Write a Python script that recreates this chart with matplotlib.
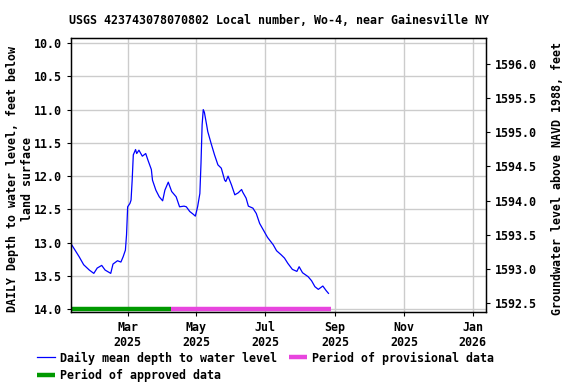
import matplotlib
matplotlib.use("Agg")
import matplotlib.pyplot as plt
from matplotlib.ticker import FormatStrFormatter
import pandas as pd

# daily mean depth to water level
dates = [
    "2025-01-10", "2025-01-17", "2025-01-21", "2025-01-26", "2025-01-30",
    "2025-02-02", "2025-02-06", "2025-02-09", "2025-02-14", "2025-02-16",
    "2025-02-20", "2025-02-23", "2025-02-25", "2025-02-27", "2025-02-28",
    "2025-03-01", "2025-03-03", "2025-03-04", "2025-03-05", "2025-03-06",
    "2025-03-08", "2025-03-09", "2025-03-11", "2025-03-14", "2025-03-17",
    "2025-03-19", "2025-03-22", "2025-03-23", "2025-03-26", "2025-03-29",
    "2025-04-01", "2025-04-03", "2025-04-06", "2025-04-09", "2025-04-13",
    "2025-04-16", "2025-04-20", "2025-04-22", "2025-04-25", "2025-04-28",
    "2025-04-30", "2025-05-02", "2025-05-04", "2025-05-05", "2025-05-06",
    "2025-05-07", "2025-05-08", "2025-05-10", "2025-05-11", "2025-05-14",
    "2025-05-17", "2025-05-20", "2025-05-23", "2025-05-26", "2025-05-27",
    "2025-05-29", "2025-06-01", "2025-06-04", "2025-06-07", "2025-06-10",
    "2025-06-11", "2025-06-14", "2025-06-16", "2025-06-20", "2025-06-23",
    "2025-06-26", "2025-06-29", "2025-07-03", "2025-07-08", "2025-07-11",
    "2025-07-15", "2025-07-18", "2025-07-21", "2025-07-25", "2025-07-29",
    "2025-07-31", "2025-08-03", "2025-08-08", "2025-08-11", "2025-08-14",
    "2025-08-17", "2025-08-21", "2025-08-24", "2025-08-26",
]
depth = [
    13.02, 13.21, 13.33, 13.41, 13.46,
    13.38, 13.34, 13.41, 13.46, 13.32,
    13.27, 13.29, 13.21, 13.11, 12.88,
    12.46, 12.41, 12.36, 12.06, 11.68,
    11.60, 11.66, 11.61, 11.70, 11.66,
    11.76, 11.90, 12.06, 12.21, 12.31,
    12.37, 12.21, 12.09, 12.23, 12.31,
    12.46, 12.45, 12.46, 12.53, 12.57,
    12.60, 12.46, 12.26, 11.81, 11.23,
    11.00, 11.04, 11.23, 11.33, 11.51,
    11.68, 11.83, 11.88, 12.06, 12.08,
    12.00, 12.13, 12.28, 12.25, 12.20,
    12.24, 12.33, 12.45, 12.48, 12.56,
    12.71, 12.80, 12.92, 13.03, 13.12,
    13.18, 13.23, 13.31, 13.40, 13.43,
    13.36, 13.45, 13.51, 13.57, 13.66,
    13.70, 13.65, 13.72, 13.76,
]

approved = ["2025-01-10", "2025-04-08"]
provisional = ["2025-04-08", "2025-08-28"]
bar_level = 14.0

tick_months = ["2025-03-01", "2025-05-01", "2025-07-01", "2025-09-01",
               "2025-11-01", "2026-01-01"]
tick_labels = ["Mar\n2025", "May\n2025", "Jul\n2025", "Sep\n2025",
               "Nov\n2025", "Jan\n2026"]

plt.rcParams["font.family"] = "DejaVu Sans Mono"
plt.rcParams["font.weight"] = "bold"
plt.rcParams["font.size"] = 8.4

fig = plt.figure(figsize=(5.76, 3.84), dpi=100)
ax = fig.add_axes([0.1233, 0.1875, 0.7205, 0.7135])

x = pd.to_datetime(dates)
ax.plot(x, depth, color="#0000FF", linewidth=0.9,
        label="Daily mean depth to water level")
ax.plot(pd.to_datetime(approved), [bar_level] * 2, color="#009900",
        linewidth=3.2, solid_capstyle="butt", label="Period of approved data")
ax.plot(pd.to_datetime(provisional), [bar_level] * 2, color="#E845DE",
        linewidth=3.2, solid_capstyle="butt", label="Period of provisional data")

ax.set_xlim(pd.Timestamp("2025-01-09 19:00"), pd.Timestamp("2026-01-12 16:00"))
ax.set_ylim(14.04, 9.925)
ax.set_yticks([10.0, 10.5, 11.0, 11.5, 12.0, 12.5, 13.0, 13.5, 14.0])
ax.yaxis.set_major_formatter(FormatStrFormatter("%.1f"))
ax.set_xticks(pd.to_datetime(tick_months))
ax.set_xticklabels(tick_labels)
ax.grid(True, color="#CCCCCC", linewidth=1.0)
ax.set_axisbelow(True)
ax.tick_params(direction="out", length=3, width=0.8)
for s in ax.spines.values():
    s.set_linewidth(1.0)

ax.set_title("USGS 423743078070802 Local number, Wo-4, near Gainesville NY",
             fontsize=8.4, fontweight="bold", pad=10)
ax.set_ylabel("DAILY Depth to water level, feet below\nland surface",
              fontweight="bold", linespacing=1.15, labelpad=0)
ax.yaxis.label.set_y(0.487)

ax2 = ax.twinx()
ax2.set_ylim(1592.363, 1596.386)
ax2.set_yticks([1592.5, 1593.0, 1593.5, 1594.0, 1594.5, 1595.0, 1595.5, 1596.0])
ax2.yaxis.set_major_formatter(FormatStrFormatter("%.1f"))
ax2.tick_params(direction="out", length=3, width=0.8)
ax2.set_ylabel("Groundwater level above NAVD 1988, feet", fontweight="bold",
               labelpad=10)
ax2.yaxis.label.set_y(0.488)

fig.legend(loc="upper left", bbox_to_anchor=(0.0555, 0.097), ncol=2,
           frameon=False, handlelength=1.55, handletextpad=0.45,
           columnspacing=1.0, labelspacing=0.4, borderaxespad=0)

fig.savefig("out.png", dpi=100)
